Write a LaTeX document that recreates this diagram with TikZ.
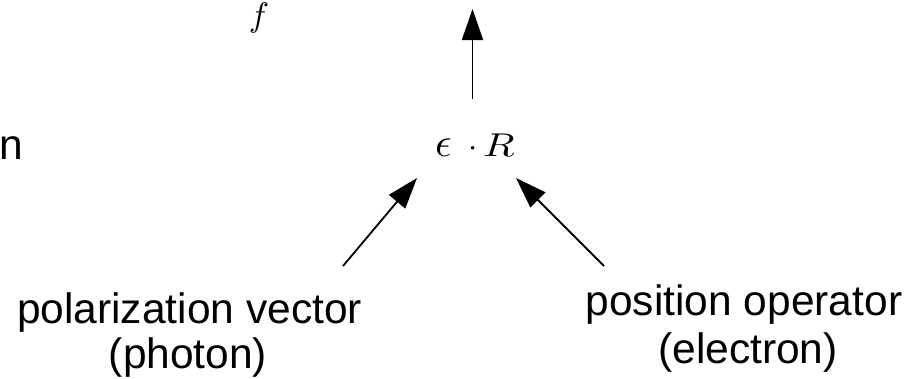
\documentclass[tikz,border=0pt]{standalone}
\usepackage{graphicx}
\usepackage{fontspec}
\setmainfont{Liberation Sans}
\usetikzlibrary{arrows.meta}
\newcommand{\bigmath}[2]{\scalebox{#1}{$#2$}}
\begin{document}
\begin{tikzpicture}[x=1pt,y=-1pt,
  lbl/.style={inner sep=0pt,font=\fontsize{42.5}{46}\selectfont,align=center},
  mth/.style={inner sep=0pt,font=\fontsize{10}{12}\selectfont},
  arr/.style={line width=1.8pt,-{Triangle[length=31pt,width=21pt]}}]
\useasboundingbox (0,0) rectangle (913,378);
\node[mth,anchor=base] (f) at (259,26) {\bigmath{3.4}{f}};
\node[mth,anchor=base west] (ER) at (435,156) {\bigmath{4.1}{\epsilon}\hspace{16.8pt}\bigmath{3.3}{\cdot}\hspace{5.4pt}\scalebox{4.1}[3.3]{$R$}};
\node[lbl,anchor=base west] (n) at (-1,159) {n};
\node[lbl,anchor=base] (pv) at (189.5,323) {polarization vector};
\node[lbl,anchor=base] (ph) at (188,368) {(photon)};
\node[lbl,anchor=base] (po) at (744,315) {position operator};
\node[lbl,anchor=base] (el) at (748,363) {(electron)};
\coordinate (upS) at (472.5,99);
\coordinate (upE) at (472.5,9);
\coordinate (lS) at (343,266);
\coordinate (lE) at (417,178);
\coordinate (rS) at (604,266);
\coordinate (rE) at (516,178);
\draw[arr] (upS) -- (upE);
\draw[arr] (lS) -- (lE);
\draw[arr] (rS) -- (rE);
\end{tikzpicture}
\end{document}
